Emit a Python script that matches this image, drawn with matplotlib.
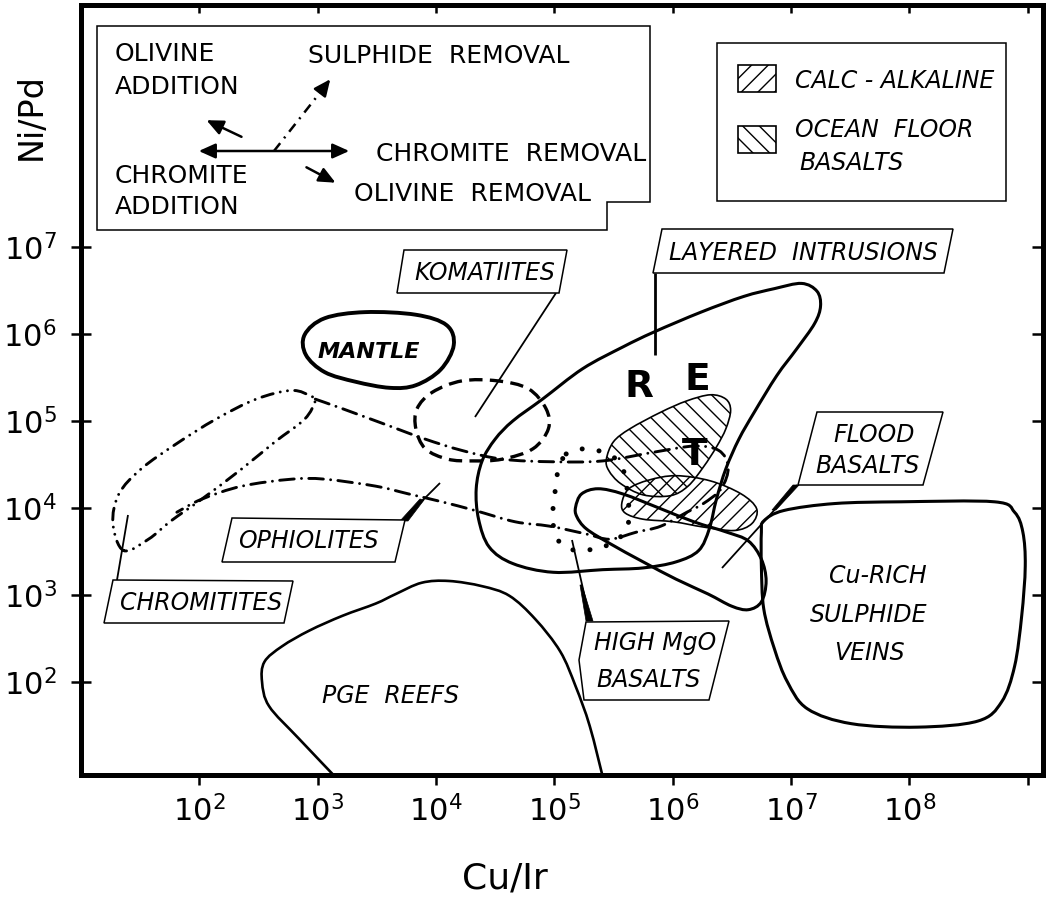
import numpy as np
import matplotlib.pyplot as plt
import matplotlib.transforms as mtransforms
from matplotlib.path import Path
from matplotlib.patches import PathPatch, Polygon, Rectangle, FancyArrowPatch

plt.rcParams['font.family'] = 'DejaVu Sans'
plt.rcParams['hatch.linewidth'] = 1.0

# field outlines, as log10(Cu/Ir) and log10(Ni/Pd)
mantle_x = [2.89, 3.06, 3.40, 3.83, 4.09, 4.15, 4.04, 3.83, 3.61, 3.32, 3.06, 2.90]
mantle_y = [5.99, 6.18, 6.25, 6.22, 6.10, 5.87, 5.59, 5.41, 5.38, 5.45, 5.56, 5.76]

komatiite_x = [3.84, 3.97, 4.22, 4.52, 4.78, 4.93, 4.95, 4.82, 4.56, 4.31, 4.10, 3.91, 3.83]
komatiite_y = [5.14, 5.33, 5.46, 5.46, 5.37, 5.14, 4.91, 4.68, 4.56, 4.54, 4.56, 4.68, 4.91]

layered_x = [7.09, 7.22, 7.25, 7.20, 7.05, 6.88, 6.69, 6.56, 6.45, 6.37, 6.31, 6.22, 6.03, 5.75,
             5.41, 4.99, 4.65, 4.45, 4.36, 4.34, 4.39, 4.50, 4.65, 4.90, 5.24, 5.58, 5.84, 6.24,
             6.60, 6.86]
layered_y = [6.58, 6.49, 6.32, 6.12, 5.83, 5.52, 5.10, 4.79, 4.45, 4.10, 3.76, 3.51, 3.38, 3.31,
             3.29, 3.26, 3.36, 3.55, 3.87, 4.22, 4.54, 4.79, 5.00, 5.25, 5.60, 5.85, 6.02, 6.25,
             6.43, 6.52]

ocean_x = [5.44, 5.50, 5.64, 5.90, 6.12, 6.32, 6.45, 6.49, 6.45, 6.37, 6.26, 6.13, 5.98, 5.75, 5.56, 5.46]
ocean_y = [4.56, 4.76, 4.91, 5.10, 5.23, 5.30, 5.25, 5.12, 4.91, 4.70, 4.47, 4.25, 4.14, 4.15, 4.28, 4.43]

calc_x = [5.57, 5.63, 5.80, 6.03, 6.32, 6.58, 6.71, 6.67, 6.52, 6.26, 6.01, 5.75, 5.60]
calc_y = [4.05, 4.22, 4.32, 4.37, 4.31, 4.16, 3.99, 3.82, 3.74, 3.78, 3.84, 3.87, 3.94]

flood_x = [5.18, 5.23, 5.37, 5.58, 5.90, 6.18, 6.46, 6.64, 6.75, 6.79, 6.75, 6.64, 6.50, 6.30,
           6.03, 5.75, 5.47, 5.27, 5.19]
flood_y = [4.01, 4.16, 4.22, 4.16, 3.99, 3.84, 3.72, 3.62, 3.41, 3.16, 2.92, 2.83, 2.87, 3.01,
           3.18, 3.38, 3.59, 3.76, 3.90]

cu_x = [6.77, 6.94, 7.37, 7.93, 8.72, 8.89, 8.96, 8.98, 8.95, 8.89, 8.78, 8.58, 8.07, 7.51,
        7.14, 6.97, 6.86, 6.77, 6.75, 6.75]
cu_y = [3.85, 3.97, 4.05, 4.07, 4.07, 3.95, 3.72, 3.33, 2.76, 2.18, 1.77, 1.55, 1.48, 1.52,
        1.69, 2.00, 2.38, 2.84, 3.33, 3.72]

pge_x = [3.19, 2.84, 2.59, 2.53, 2.55, 2.70, 2.93, 3.21, 3.49, 3.66, 3.88, 4.11, 4.39, 4.62,
         4.84, 5.05, 5.18, 5.30, 5.42]
pge_y = [0.85, 1.35, 1.72, 2.00, 2.23, 2.41, 2.59, 2.76, 2.90, 3.01, 3.14, 3.16, 3.10, 2.99,
         2.72, 2.35, 1.95, 1.49, 0.85]

chromitite_x = [1.36, 1.27, 1.32, 1.51, 1.81, 2.14, 2.48, 2.78, 2.95, 2.98, 2.89, 2.64, 2.36,
                2.02, 1.76, 1.57]
chromitite_y = [3.51, 3.82, 4.16, 4.45, 4.74, 5.02, 5.25, 5.35, 5.28, 5.23, 5.02, 4.76, 4.45,
                4.10, 3.85, 3.64]

ophiolite_x = [2.98, 3.21, 3.63, 3.91, 4.22, 4.56, 4.99, 5.41, 5.84, 6.18, 6.39, 6.47, 6.41,
               6.26, 6.12, 5.90, 5.69, 5.47, 5.27, 4.96, 4.67, 4.33, 4.05, 3.77, 3.49, 3.06,
               2.78, 2.36, 2.02, 1.81]
ophiolite_y = [5.25, 5.14, 4.93, 4.79, 4.66, 4.56, 4.53, 4.54, 4.64, 4.71, 4.66, 4.47, 4.22,
               4.05, 3.95, 3.79, 3.72, 3.64, 3.70, 3.79, 3.84, 3.97, 4.07, 4.16, 4.25, 4.33,
               4.33, 4.25, 4.10, 3.95]

highmgo_x = [5.10, 5.26, 5.41, 5.54, 5.60, 5.62, 5.63, 5.60, 5.40, 5.26, 5.12, 5.01, 4.99, 4.99, 5.01, 5.03]
highmgo_y = [4.62, 4.68, 4.64, 4.54, 4.36, 4.14, 3.95, 3.72, 3.54, 3.52, 3.53, 3.67, 3.85, 4.01, 4.22, 4.41]

x_decades = [2, 3, 4, 5, 6, 7, 8, 9]
y_decades = [2, 3, 4, 5, 6, 7]


def outline(xs, ys, closed=True):
    # smooth curve through the read points (Catmull-Rom as cubic Bezier, in log space)
    p = np.column_stack([xs, ys]).astype(float)
    n = len(p)
    verts = [p[0]]
    codes = [Path.MOVETO]
    for i in range(n if closed else n - 1):
        if closed:
            p0, p1, p2, p3 = p[(i - 1) % n], p[i], p[(i + 1) % n], p[(i + 2) % n]
        else:
            p0, p1, p2, p3 = p[max(i - 1, 0)], p[i], p[i + 1], p[min(i + 2, n - 1)]
        verts += [p1 + (p2 - p0) / 6, p2 - (p3 - p1) / 6, p2]
        codes += [Path.CURVE4] * 3
    if closed:
        verts.append(p[0])
        codes.append(Path.CLOSEPOLY)
    return Path(10 ** np.array(verts), codes)


W, H = 1060, 899
fig = plt.figure(figsize=(W / 100, H / 100), dpi=100)
ax = fig.add_axes([81 / W, 1 - 775 / H, 962 / W, 770 / H])
# pixel coordinates (from the top-left corner) for the annotation layer
pix = mtransforms.Affine2D().scale(1 / W, -1 / H).translate(0, 1) + fig.transFigure

ax.set_xscale('log')
ax.set_yscale('log')
xlim = (10 ** 1.0, 10 ** 9.13)
ylim = (10 ** 0.93, 10 ** 9.78)


def field(xs, ys, closed=True, **kw):
    kw.setdefault('facecolor', 'none')
    kw.setdefault('edgecolor', 'black')
    ax.add_patch(PathPatch(outline(xs, ys, closed), zorder=2, **kw))


field(mantle_x, mantle_y, lw=2.8)
field(komatiite_x, komatiite_y, lw=2.4, linestyle=(0, (4, 2.2)))
field(layered_x, layered_y, lw=2.2)
field(ocean_x, ocean_y, lw=1.2, hatch='\\\\')
field(calc_x, calc_y, lw=1.2, hatch='//')
field(flood_x, flood_y, lw=2.2)
field(cu_x, cu_y, lw=2.2)
field(pge_x, pge_y, closed=False, lw=1.9)
field(chromitite_x, chromitite_y, lw=2.1, capstyle='round',
      linestyle=(0, (4, 2.5, 0.01, 2.5, 0.01, 2.5)))
field(ophiolite_x, ophiolite_y, closed=False, lw=2.1, capstyle='round',
      linestyle=(0, (5, 2.5, 0.01, 2.5)))
field(highmgo_x, highmgo_y, lw=3.6, capstyle='round', linestyle=(0, (0.01, 3.4)))

ax.set_xlim(xlim)
ax.set_ylim(ylim)

# axes, ticks
ax.set_xticks([10.0 ** k for k in x_decades])
ax.set_xticklabels(['$10^{%d}$' % k for k in x_decades[:-1]] + [''])
ax.set_yticks([10.0 ** k for k in y_decades])
ax.set_yticklabels(['$10^{%d}$' % k for k in y_decades])
ax.minorticks_off()
ax.tick_params(axis='x', direction='out', length=7.5, width=1.8, pad=7, labelsize=22)
ax.tick_params(axis='y', direction='inout', length=15, width=1.8, pad=10, labelsize=22)
for s in ax.spines.values():
    s.set_linewidth(3.6)

axt = ax.twiny()
axt.set_xscale('log')
axt.set_xlim(xlim)
axt.set_xticks([10.0 ** k for k in x_decades])
axt.minorticks_off()
axt.tick_params(axis='x', direction='in', length=6, width=1.8, labeltop=False)
axr = ax.twinx()
axr.set_yscale('log')
axr.set_ylim(ylim)
axr.set_yticks([10.0 ** k for k in y_decades])
axr.minorticks_off()
axr.tick_params(axis='y', direction='in', length=8, width=1.8, labelright=False)
for a in (axt, axr):
    for s in a.spines.values():
        s.set_visible(False)

fig.text(31, 117, 'Ni/Pd', transform=pix, rotation=90, fontsize=24, ha='center', va='center')
fig.text(505, 879, 'Cu/Ir', transform=pix, fontsize=26, ha='center', va='center')


def box(corners):
    ax.add_patch(Polygon(corners, closed=True, transform=pix, facecolor='white',
                         edgecolor='black', lw=1.1, zorder=4, clip_on=False))


def txt(x, y, s, size=17, style='italic', **kw):
    ax.text(x, y, s, transform=pix, fontsize=size, style=style, ha='left',
            va='baseline', zorder=6, **kw)


def leader(x1, y1, x2, y2, lw=1.3):
    ax.plot([x1, x2], [y1, y2], transform=pix, color='black', lw=lw, zorder=3,
            clip_on=False, solid_capstyle='butt')


def wedge(pts):
    ax.add_patch(Polygon(pts, closed=True, transform=pix, facecolor='black',
                         edgecolor='black', lw=0.5, zorder=3))


# process-vector legend (upper left)
box([(97, 26), (650, 26), (650, 202), (607, 202), (607, 230), (97, 230)])
txt(115, 61, 'OLIVINE', size=18, style='normal')
txt(115, 94, 'ADDITION', size=18, style='normal')
txt(308, 63, 'SULPHIDE  REMOVAL', size=18, style='normal')
txt(376, 161, 'CHROMITE  REMOVAL', size=18, style='normal')
txt(115, 183, 'CHROMITE', size=18, style='normal')
txt(115, 214, 'ADDITION', size=18, style='normal')
txt(354, 201, 'OLIVINE  REMOVAL', size=18, style='normal')

arrow_kw = dict(transform=pix, color='black', lw=1.8, mutation_scale=10, zorder=6, clip_on=False)
ax.add_patch(FancyArrowPatch((196, 151), (352, 151),
                             arrowstyle='<|-|>,head_length=1.0,head_width=0.45', **arrow_kw))
ax.add_patch(FancyArrowPatch((244, 138), (204, 119),
                             arrowstyle='-|>,head_length=1.0,head_width=0.45', **arrow_kw))
ax.add_patch(FancyArrowPatch((304, 166), (338, 184),
                             arrowstyle='-|>,head_length=1.0,head_width=0.45', **arrow_kw))
ax.plot([274, 326], [151, 85], transform=pix, color='black', lw=1.8, zorder=6,
        linestyle=(0, (4, 2.5, 0.8, 2.5)), clip_on=False)
ax.add_patch(FancyArrowPatch((322, 90), (332, 77),
                             arrowstyle='-|>,head_length=1.0,head_width=0.45', **arrow_kw))
leader(261, 144, 290, 159, lw=1.8)

# hatch legend (upper right)
box([(717, 43), (1006, 43), (1006, 201), (717, 201)])
ax.add_patch(Rectangle((738, 65), 38, 27, transform=pix, facecolor='white', edgecolor='black',
                       lw=1.2, hatch='//', zorder=5))
ax.add_patch(Rectangle((738, 126), 38, 27, transform=pix, facecolor='white', edgecolor='black',
                       lw=1.2, hatch='\\\\', zorder=5))
txt(795, 88, 'CALC - ALKALINE')
txt(795, 137, 'OCEAN  FLOOR')
txt(799, 170, 'BASALTS')

# field labels
box([(404, 250), (567, 250), (559, 293), (397, 293)])
txt(414, 280, 'KOMATIITES')
leader(556, 293, 475, 417)

box([(662, 229), (953, 229), (944, 273), (653, 273)])
txt(669, 260, 'LAYERED  INTRUSIONS')
leader(655, 273, 655, 355, lw=2.0)

box([(817, 412), (943, 412), (923, 485), (798, 485)])
txt(833, 442, 'FLOOD')
txt(815, 473, 'BASALTS')
leader(797, 485, 722, 568)
wedge([(799, 485), (793, 485), (772, 510), (776, 510)])

box([(232, 518), (405, 520), (395, 562), (222, 562)])
txt(238, 548, 'OPHIOLITES')
leader(403, 520, 440, 483)
wedge([(400, 521), (408, 521), (424, 500), (420, 499)])

box([(113, 580), (293, 581), (284, 623), (104, 623)])
txt(120, 610, 'CHROMITITES')
leader(117, 580, 128, 515)

box([(586, 622), (729, 621), (709, 700), (584, 700), (579, 660)])
txt(594, 650, 'HIGH MgO')
txt(596, 687, 'BASALTS')
leader(590, 620, 572, 540)
wedge([(586, 621), (593, 621), (582, 585), (580, 585)])

txt(322, 703, 'PGE  REEFS')
txt(829, 583, 'Cu-RICH')
txt(810, 622, 'SULPHIDE')
txt(834, 660, 'VEINS')
txt(318, 358, 'MANTLE', size=16, weight='bold')

for x, y, s in [(625, 397, 'R'), (685, 390, 'E'), (682, 465, 'T')]:
    txt(x, y, s, size=27, style='normal', weight='bold')

fig.savefig('out.png', dpi=100)
